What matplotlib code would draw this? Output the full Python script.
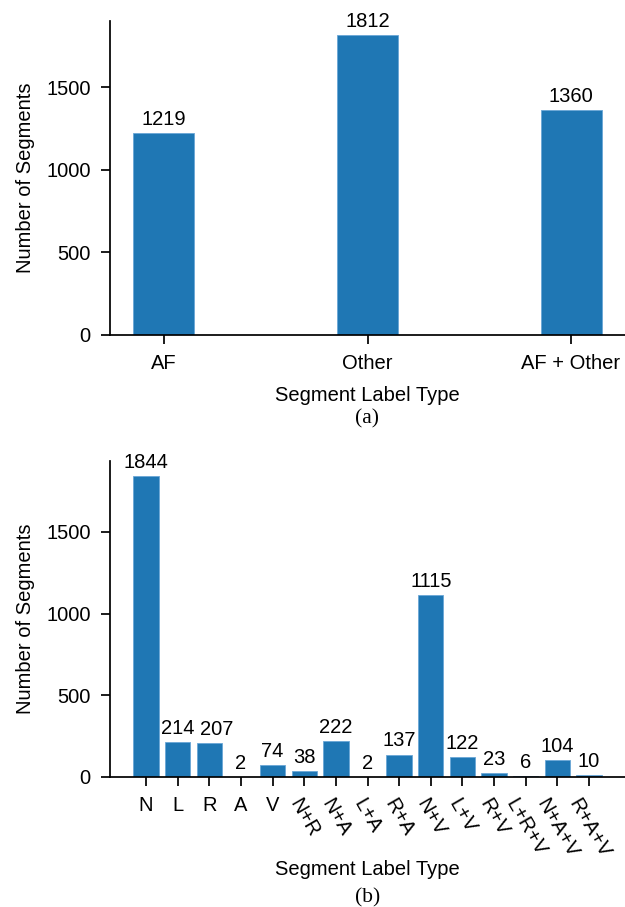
import matplotlib
matplotlib.use("Agg")
import matplotlib.pyplot as plt
import numpy as np

# Data
cats_a = ["AF", "Other", "AF + Other"]
vals_a = [1219, 1812, 1360]

cats_b = ["N", "L", "R", "A", "V", "N+R", "N+A", "L+A", "R+A", "N+V",
          "L+V", "R+V", "L+R+V", "N+A+V", "R+A+V"]
vals_b = [1844, 214, 207, 2, 74, 38, 222, 2, 137, 1115, 122, 23, 6, 104, 10]

plt.rcParams['font.family'] = ['Liberation Sans', 'DejaVu Sans']
FS = 14.5
BLUE = '#1f77b4'
EDGE = '#6aa6d6'

W, H = 625, 907
fig = plt.figure(figsize=(W / 100, H / 100), dpi=100)

left = 110 / W
right = 1.0

ax1 = fig.add_axes([left, 1 - 335 / H, right - left, (335 - 20.5) / H])
ax2 = fig.add_axes([left, 1 - 777 / H, right - left, (777 - 460.7) / H])


def style(ax):
    for s in ('top', 'right'):
        ax.spines[s].set_visible(False)
    for s in ('left', 'bottom'):
        ax.spines[s].set_linewidth(1.25)
    ax.tick_params(axis='both', length=6.5, width=1.25, pad=7, labelsize=FS)
    ax.tick_params(axis='y', pad=7.5)


# (a)
x_a = np.arange(len(cats_a))
bars = ax1.bar(x_a, vals_a, width=0.3, color=BLUE, edgecolor=EDGE, linewidth=0.6)
ax1.bar_label(bars, labels=[str(v) for v in vals_a], padding=3, fontsize=FS)
ax1.set_xticks(x_a)
ax1.set_xticklabels(cats_a)
ax1.set_yticks([0, 500, 1000, 1500])
style(ax1)
ax1.set_ylabel("Number of Segments", fontsize=FS, labelpad=8)
ax1.set_xlabel("Segment Label Type", fontsize=FS, labelpad=9.5)

# (b)
x_b = np.arange(len(cats_b))
bars = ax2.bar(x_b, vals_b, width=0.8, color=BLUE, edgecolor=EDGE, linewidth=0.6)
anns = ax2.bar_label(bars, labels=[str(v) for v in vals_b], padding=3, fontsize=FS)
# the "R" label is nudged right in the original to avoid overlapping "L"
anns[cats_b.index("R")].xyann = (5, 3)
ax2.set_xticks(x_b)
ax2.set_xticklabels(cats_b)
for lab, name in zip(ax2.get_xticklabels(), cats_b):
    if '+' in name:
        lab.set_rotation(-60)
ax2.set_yticks([0, 500, 1000, 1500])
style(ax2)
ax2.set_ylabel("Number of Segments", fontsize=FS, labelpad=8)
ax2.set_xlabel("Segment Label Type", fontsize=FS, labelpad=-1)

fig.text(367.5 / W, 1 - 419 / H, "(a)", ha='center', va='center',
         fontsize=15.5, family=['Liberation Serif', 'DejaVu Serif'])
fig.text(367.5 / W, 1 - 898 / H, "(b)", ha='center', va='center',
         fontsize=15.5, family=['Liberation Serif', 'DejaVu Serif'])

fig.savefig("out.png", dpi=100)
